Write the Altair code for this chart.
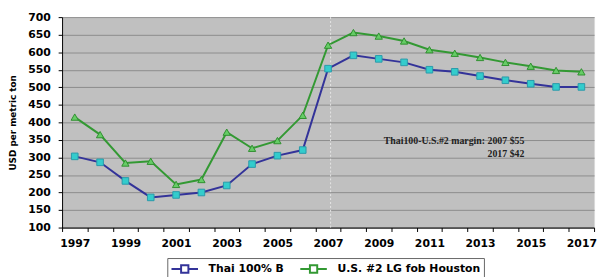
import altair as alt
import pandas as pd

# ---- data ----
years = list(range(1997, 2018))
thai = [303, 286, 233, 186, 193, 200, 220, 281, 305, 321, 553, 591, 581, 571,
        550, 544, 532, 520, 510, 501, 501]
us = [415, 365, 284, 289, 223, 237, 372, 326, 348, 420, 620, 656, 646, 632,
      607, 597, 585, 571, 560, 548, 544]
series_names = ["Thai 100% B", "U.S. #2 LG fob Houston"]
line_colors = ["#333399", "#339933"]
marker_fills = ["#33cccc", "#66cc66"]
marker_strokes = ["#2a9aaa", "#2f8f2f"]
y_ticks = list(range(100, 701, 50))
x_label_years = list(range(1997, 2018, 2))
x_tick_bounds = [y + 0.5 for y in range(1996, 2018)]
annot_text = ["Thai100-U.S.#2 margin: 2007 $55", "2017 $42"]
annot_x = [2014.75, 2014.75]
annot_y = [347, 310]
vline_year = [2007.1]

# ---- tables ----
df = pd.DataFrame({
    "year": years * 2,
    "price": thai + us,
    "series": [series_names[0]] * len(years) + [series_names[1]] * len(years),
})
annot_df = pd.DataFrame({"text": annot_text, "year": annot_x, "price": annot_y})
vline_df = pd.DataFrame({"year": vline_year, "price": [400]})

FONT = "DejaVu Sans"

x_scale = alt.Scale(domain=[1996.5, 2017.5], nice=False, zero=False)
y_scale = alt.Scale(domain=[100, 700], nice=False, zero=False)

x_axis = alt.Axis(
    values=sorted(x_tick_bounds + x_label_years),
    labelExpr="datum.value % 1 === 0 ? '' + datum.value : ''",
    tickOpacity={"condition": {"test": "datum.value % 1 === 0", "value": 0}, "value": 1},
    labelOverlap=False,
    grid=False,
    tickSize=4,
    tickColor="black",
    domainColor="black",
    labelFont=FONT,
    labelFontWeight="bold",
    labelFontSize=11,
    labelColor="black",
    labelPadding=6,
    title=None,
)
y_axis = alt.Axis(
    values=y_ticks,
    labelOverlap=False,
    grid=True,
    gridColor="#8c8c8c",
    gridWidth=1,
    tickSize=4,
    tickColor="black",
    domainColor="black",
    labelFont=FONT,
    labelFontWeight="bold",
    labelFontSize=11,
    labelColor="black",
    labelPadding=8,
    title="USD per metric ton",
    titleFont=FONT,
    titleFontWeight="bold",
    titleFontSize=9,
    titleColor="black",
    titlePadding=10,
)

X = alt.X("year:Q", scale=x_scale, axis=x_axis)
Y = alt.Y("price:Q", scale=y_scale, axis=y_axis)

base = alt.Chart(df)

legend_symbol = "M-1,0L0.45,0M1.55,0L3,0M0.45,-0.55L1.55,-0.55L1.55,0.55L0.45,0.55Z"

lines = base.mark_line(strokeWidth=2).encode(
    x=X, y=Y,
    color=alt.Color(
        "series:N",
        scale=alt.Scale(domain=series_names, range=line_colors),
        legend=alt.Legend(
            title=None, orient="none", legendX=107, legendY=245, direction="horizontal",
            symbolType=legend_symbol, symbolSize=182, symbolStrokeWidth=2,
            labelOffset=23, columnPadding=12,
            labelFont=FONT, labelFontWeight="bold", labelFontSize=11, labelColor="black",
            labelLimit=300, padding=3, strokeColor="#666666", fillColor="white",
        ),
    ),
)

vline = alt.Chart(vline_df).mark_rule(color="#e6e6e6", strokeDash=[2, 2], strokeWidth=1).encode(
    x=X
)

thai_pts = base.transform_filter(alt.datum.series == series_names[0]).mark_point(
    shape="square", filled=True, size=45, fill=marker_fills[0], stroke=marker_strokes[0],
    strokeWidth=1, opacity=1,
).encode(x=X, y=Y)

us_pts = base.transform_filter(alt.datum.series == series_names[1]).mark_point(
    shape="triangle-up", filled=True, size=55, fill=marker_fills[1], stroke=marker_strokes[1],
    strokeWidth=1, opacity=1,
).encode(x=X, y=Y)

annot = alt.Chart(annot_df).mark_text(
    align="right", baseline="middle", font="Liberation Serif", fontWeight="bold",
    fontSize=10, color="#222222",
).encode(x=X, y=Y, text="text:N")

chart = alt.layer(lines, vline, thai_pts, us_pts, annot).properties(
    width=541, height=214,
    padding={"left": 55, "top": 7, "right": 4, "bottom": 48},
    autosize=alt.AutoSizeParams(type="none"),
    background="white",
).configure_view(fill="#c0c0c0", stroke="#d8d8d8")

chart.save("out.html", embed_options={"renderer": "svg", "actions": False})
